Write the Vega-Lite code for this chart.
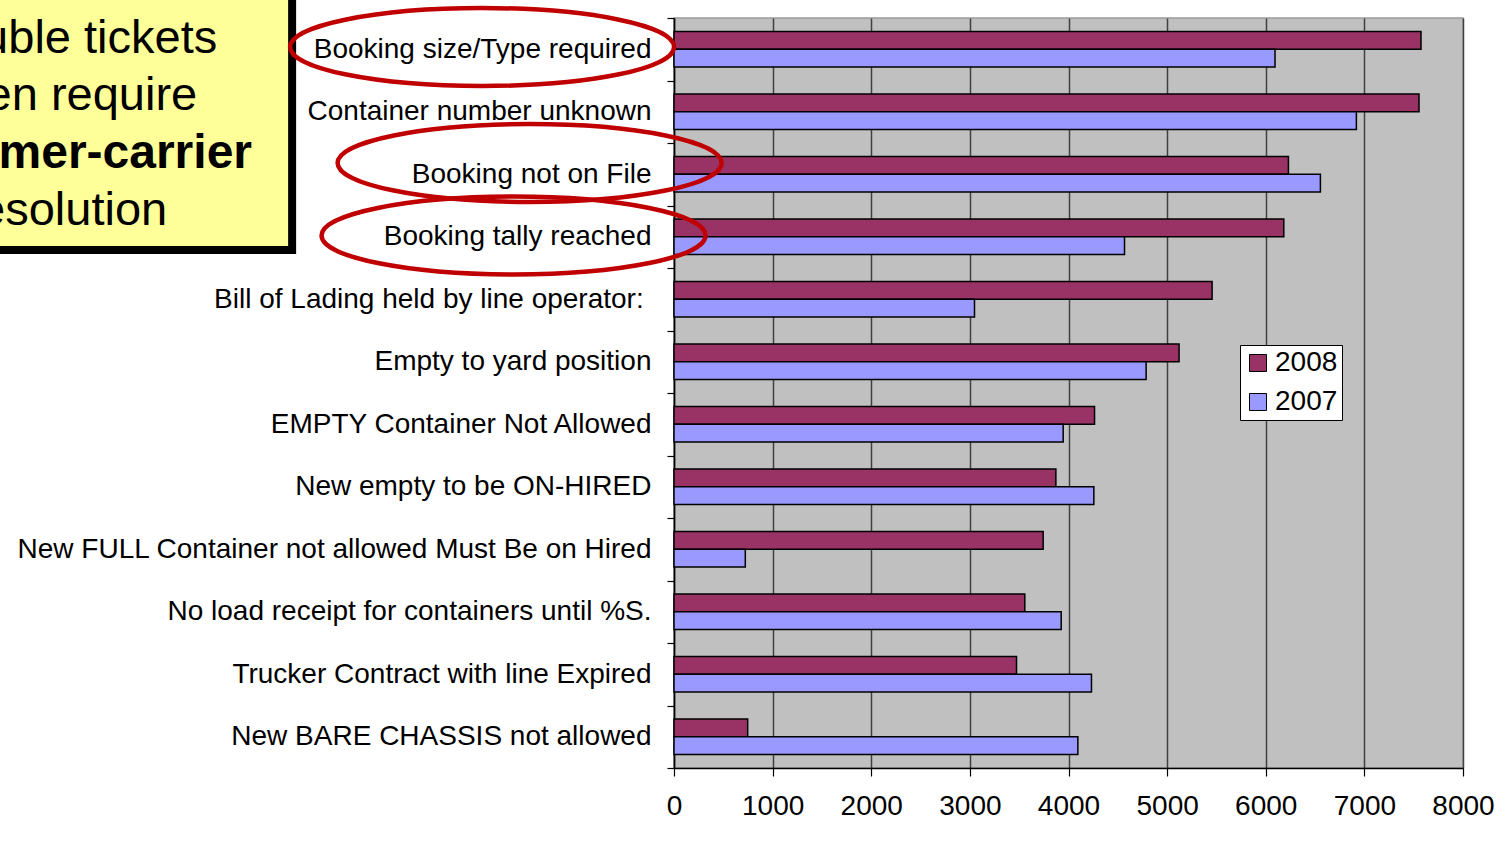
{
  "$schema": "https://vega.github.io/schema/vega-lite/v6.json",
  "width": 789,
  "height": 750,
  "autosize": {"type": "none"},
  "padding": {"left": 674, "top": 18, "right": 40, "bottom": 75},
  "background": "white",
  "config": {
    "font": "Liberation Sans",
    "view": {"fill": "#c0c0c0", "stroke": "#9a9a9a", "strokeWidth": 1.5}
  },
  "datasets": {
    "counts": [
      {"cause": "Booking size/Type required", "year": "2008", "value": 7574},
      {"cause": "Booking size/Type required", "year": "2007", "value": 6094},
      {"cause": "Container number unknown", "year": "2008", "value": 7554},
      {"cause": "Container number unknown", "year": "2007", "value": 6919},
      {"cause": "Booking not on File", "year": "2008", "value": 6230},
      {"cause": "Booking not on File", "year": "2007", "value": 6554},
      {"cause": "Booking tally reached", "year": "2008", "value": 6183},
      {"cause": "Booking tally reached", "year": "2007", "value": 4568},
      {"cause": "Bill of Lading held by line operator:\u00a0\u200b", "year": "2008", "value": 5456},
      {"cause": "Bill of Lading held by line operator:\u00a0\u200b", "year": "2007", "value": 3047},
      {"cause": "Empty to yard position", "year": "2008", "value": 5121},
      {"cause": "Empty to yard position", "year": "2007", "value": 4787},
      {"cause": "EMPTY Container Not Allowed", "year": "2008", "value": 4264},
      {"cause": "EMPTY Container Not Allowed", "year": "2007", "value": 3946},
      {"cause": "New empty to be ON-HIRED", "year": "2008", "value": 3872},
      {"cause": "New empty to be ON-HIRED", "year": "2007", "value": 4257},
      {"cause": "New FULL Container not allowed Must Be on Hired", "year": "2008", "value": 3743},
      {"cause": "New FULL Container not allowed Must Be on Hired", "year": "2007", "value": 723},
      {"cause": "No load receipt for containers until %S.", "year": "2008", "value": 3557},
      {"cause": "No load receipt for containers until %S.", "year": "2007", "value": 3926},
      {"cause": "Trucker Contract with line Expired", "year": "2008", "value": 3473},
      {"cause": "Trucker Contract with line Expired", "year": "2007", "value": 4233},
      {"cause": "New BARE CHASSIS not allowed", "year": "2008", "value": 747},
      {"cause": "New BARE CHASSIS not allowed", "year": "2007", "value": 4095}
    ],
    "callout": [
      {"bx": -9000, "bx2": -3872, "by": -1, "by2": 3.712}
    ],
    "calloutText": [
      {"t": "Trouble tickets", "tx": -6172, "ty": 0.56},
      {"t": "often require", "tx": -6172, "ty": 1.472},
      {"t": "resolution", "tx": -6172, "ty": 3.312}
    ],
    "calloutBold": [
      {"t": "customer-carrier", "tx": -6213, "ty": 2.4}
    ],
    "rings": [
      {"cx": -1946, "cy": 0.464},
      {"cx": -1464, "cy": 2.32},
      {"cx": -1627, "cy": 3.48}
    ]
  },
  "layer": [
    {
      "data": {"name": "counts"},
      "mark": {"type": "bar", "stroke": "black", "strokeWidth": 1.5},
      "encoding": {
        "y": {
          "field": "cause",
          "type": "nominal",
          "sort": null,
          "scale": {"paddingInner": 0, "paddingOuter": 0},
          "axis": {
            "title": null,
            "tickBand": "extent",
            "tickSize": 7,
            "tickColor": "black",
            "tickWidth": 1.2,
            "domainColor": "black",
            "domainWidth": 1.5,
            "labelFontSize": 28,
            "labelColor": "black",
            "labelPadding": 16,
            "labelLimit": 0,
            "grid": false
          }
        },
        "x": {
          "field": "value",
          "type": "quantitative",
          "scale": {"domain": [0, 8000], "nice": false, "zero": false},
          "axis": {
            "title": null,
            "values": [0, 1000, 2000, 3000, 4000, 5000, 6000, 7000, 8000],
            "format": "d",
            "grid": true,
            "gridColor": "#404040",
            "gridWidth": 1.5,
            "tickSize": 8,
            "tickColor": "black",
            "tickWidth": 1.2,
            "domainColor": "black",
            "domainWidth": 1.5,
            "labelFontSize": 28,
            "labelColor": "black",
            "labelPadding": 16,
            "labelFlush": false
          }
        },
        "yOffset": {
          "field": "year",
          "type": "nominal",
          "sort": ["2008", "2007"],
          "scale": {"paddingInner": 0, "paddingOuter": 0.756}
        },
        "color": {
          "field": "year",
          "type": "nominal",
          "scale": {"domain": ["2008", "2007"], "range": ["#993366", "#9999ff"]},
          "legend": {
            "title": null,
            "orient": "none",
            "legendX": 566,
            "legendY": 327,
            "fillColor": "white",
            "strokeColor": "black",
            "padding": 4,
            "symbolType": "square",
            "symbolSize": 289,
            "symbolStrokeColor": "black",
            "symbolStrokeWidth": 1,
            "symbolOpacity": 1,
            "labelFontSize": 28,
            "labelColor": "black",
            "labelOffset": 3,
            "rowPadding": 11
          }
        }
      }
    },
    {
      "data": {"name": "callout"},
      "mark": {"type": "rect", "fill": "#ffff99", "stroke": "black", "strokeWidth": 8},
      "encoding": {
        "x": {"field": "bx", "type": "quantitative", "title": null, "scale": {"domain": [0, 8000], "nice": false, "zero": false}},
        "x2": {"field": "bx2"},
        "y": {"field": "by", "type": "quantitative", "axis": null, "scale": {"domain": [0, 12], "reverse": true, "nice": false, "zero": false}},
        "y2": {"field": "by2"}
      }
    },
    {
      "data": {"name": "calloutText"},
      "mark": {"type": "text", "align": "center", "baseline": "alphabetic", "fontSize": 47, "color": "black"},
      "encoding": {
        "x": {"field": "tx", "type": "quantitative", "title": null, "scale": {"domain": [0, 8000], "nice": false, "zero": false}},
        "y": {"field": "ty", "type": "quantitative", "axis": null, "scale": {"domain": [0, 12], "reverse": true, "nice": false, "zero": false}},
        "text": {"field": "t"}
      }
    },
    {
      "data": {"name": "calloutBold"},
      "mark": {"type": "text", "align": "center", "baseline": "alphabetic", "fontSize": 48, "fontWeight": "bold", "color": "black"},
      "encoding": {
        "x": {"field": "tx", "type": "quantitative", "title": null, "scale": {"domain": [0, 8000], "nice": false, "zero": false}},
        "y": {"field": "ty", "type": "quantitative", "axis": null, "scale": {"domain": [0, 12], "reverse": true, "nice": false, "zero": false}},
        "text": {"field": "t"}
      }
    },
    {
      "data": {"name": "rings"},
      "mark": {
        "type": "point",
        "shape": "M 1 0 C 1 0.1121 0.5523 0.203 0 0.203 C -0.5523 0.203 -1 0.1121 -1 0 C -1 -0.1121 -0.5523 -0.203 0 -0.203 C 0.5523 -0.203 1 -0.1121 1 0 Z",
        "filled": false,
        "stroke": "#c00000",
        "strokeWidth": 4.5,
        "size": 147456,
        "opacity": 1
      },
      "encoding": {
        "x": {"field": "cx", "type": "quantitative", "title": null, "scale": {"domain": [0, 8000], "nice": false, "zero": false}},
        "y": {"field": "cy", "type": "quantitative", "axis": null, "scale": {"domain": [0, 12], "reverse": true, "nice": false, "zero": false}}
      }
    }
  ],
  "resolve": {"scale": {"y": "independent"}}
}
